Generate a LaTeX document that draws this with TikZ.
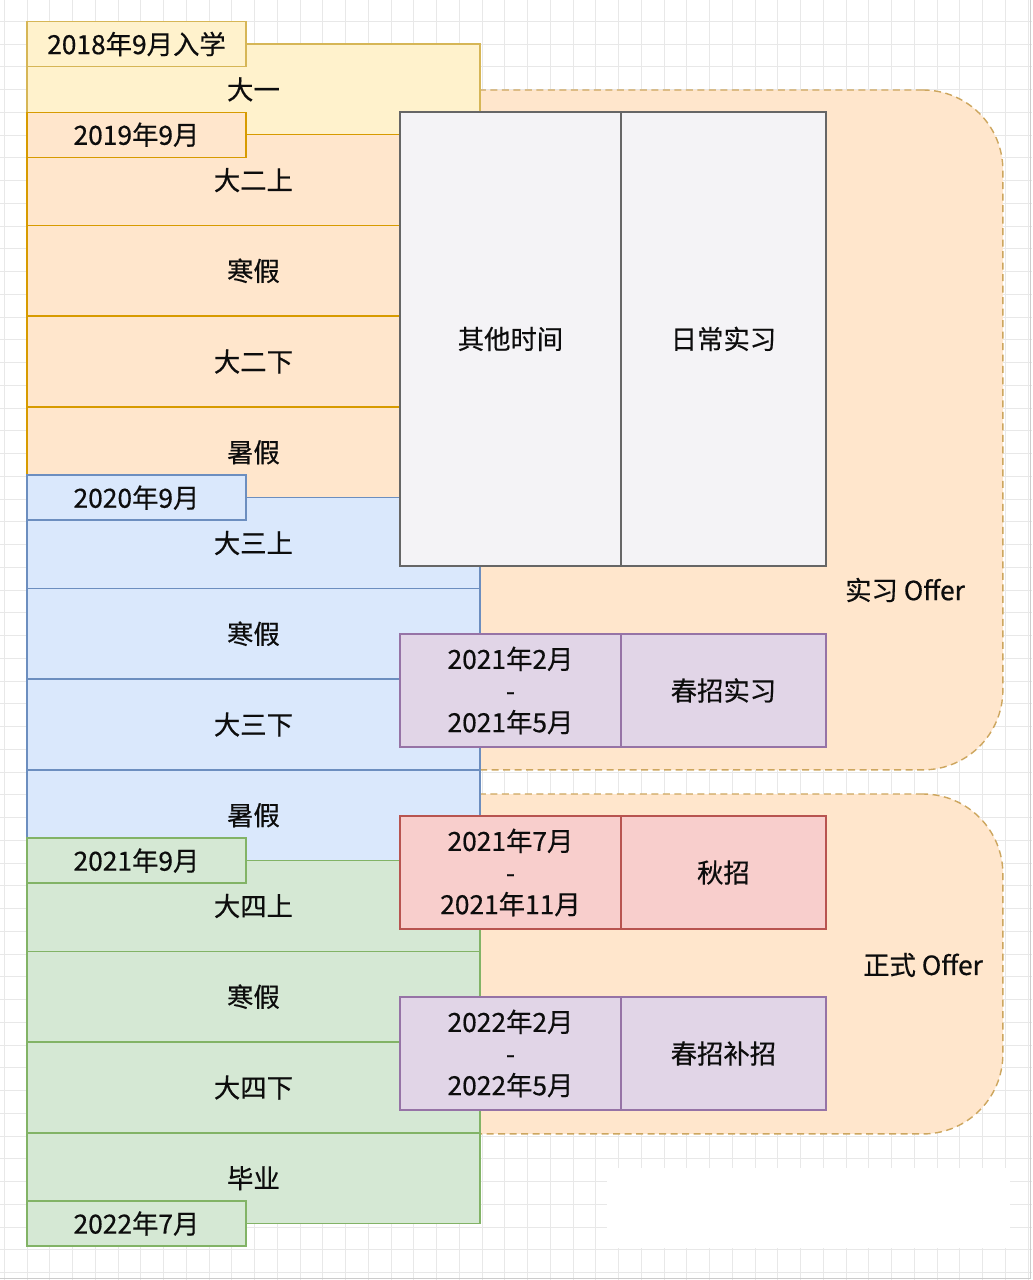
\documentclass[tikz,border=0pt]{standalone}
\usepackage{fontspec}
\setmainfont{Noto Sans CJK SC}[FakeBold=0.5]
\usetikzlibrary{positioning}

\definecolor{yelfill}{HTML}{FFF2CC}\definecolor{yeldraw}{HTML}{D6B656}
\definecolor{orgfill}{HTML}{FFE6CC}\definecolor{orgdraw}{HTML}{D79B00}
\definecolor{blufill}{HTML}{DAE8FC}\definecolor{bludraw}{HTML}{6C8EBF}
\definecolor{grnfill}{HTML}{D5E8D4}\definecolor{grndraw}{HTML}{82B366}
\definecolor{purfill}{HTML}{E1D5E7}\definecolor{purdraw}{HTML}{9673A6}
\definecolor{redfill}{HTML}{F8CECC}\definecolor{reddraw}{HTML}{B85450}
\definecolor{gryfill}{HTML}{F4F3F6}\definecolor{grydraw}{HTML}{666666}
\definecolor{offerdraw}{HTML}{CDA65E}
\definecolor{gridcol}{HTML}{E8E8E8}

\begin{document}
\begin{tikzpicture}[
    x=0.02cm, y=-0.02cm,
    every node/.style={font=\fontsize{15}{18}\selectfont, text=black!95,
                       inner sep=0pt, outer sep=0pt},
    semrow/.style={draw, line width=0.8pt, align=center,
                minimum width=9.06cm, minimum height=1.815cm},
    yelrow/.style={semrow, fill=yelfill, draw=yeldraw},
    orgrow/.style={semrow, fill=orgfill, draw=orgdraw},
    blurow/.style={semrow, fill=blufill, draw=bludraw},
    grnrow/.style={semrow, fill=grnfill, draw=grndraw},
    datebox/.style={draw, line width=0.8pt, anchor=west,
                    minimum width=4.38cm, minimum height=0.9cm},
    cell/.style={draw, line width=0.8pt, align=center, minimum height=2.26cm},
    region/.style={draw=offerdraw, fill=orgfill, line width=0.8pt,
                   dash pattern=on 0.14cm off 0.09cm, rounded corners=1.6cm,
                   anchor=north west, minimum width=14.06cm},
    gridline/.style={draw=gridcol, line width=0.4pt}
  ]
    \useasboundingbox (0,0) rectangle (1032,1280);
    % background grid
    \foreach \i in {0,...,45} \draw[gridline] ({4.25+22.75*\i},0) -- ({4.25+22.75*\i},1280);
    \foreach \j in {0,...,55} \draw[gridline] (0,{21.25+22.75*\j}) -- (1032,{21.25+22.75*\j});
    \fill[white] (607,1168) rectangle (1010,1248);
    \draw[gray!40] (1030,0) -- (1030,1278) -- (0,1278);

    % offer regions
    \node[region, minimum height=13.6cm] (internreg) at (300,90) {};
    \node[region, minimum height=6.8cm] (fullreg) at (300,794) {};
    \node (internlbl) at (905,590) {实习 Offer};
    \node (fulllbl) at (923,965) {正式 Offer};

    % semesters
    \node[yelrow, anchor=north west] (fresh) at (27,44) {大一};
    \node[orgrow, below=0pt of fresh] (sophA) {大二上};
    \node[orgrow, below=0pt of sophA] (sophW) {寒假};
    \node[orgrow, below=0pt of sophW] (sophB) {大二下};
    \node[orgrow, below=0pt of sophB] (sophS) {暑假};
    \node[blurow, below=0pt of sophS] (junA) {大三上};
    \node[blurow, below=0pt of junA] (junW) {寒假};
    \node[blurow, below=0pt of junW] (junB) {大三下};
    \node[blurow, below=0pt of junB] (junS) {暑假};
    \node[grnrow, below=0pt of junS] (senA) {大四上};
    \node[grnrow, below=0pt of senA] (senW) {寒假};
    \node[grnrow, below=0pt of senW] (senB) {大四下};
    \node[grnrow, below=0pt of senB] (grad) {毕业};

    % dates
    \node[datebox, fill=yelfill, draw=yeldraw] (d2018) at (fresh.north west) {2018年9月入学};
    \node[datebox, fill=orgfill, draw=orgdraw] (d2019) at (sophA.north west) {2019年9月};
    \node[datebox, fill=blufill, draw=bludraw] (d2020) at (junA.north west) {2020年9月};
    \node[datebox, fill=grnfill, draw=grndraw] (d2021) at (senA.north west) {2021年9月};
    \node[datebox, fill=grnfill, draw=grndraw] (d2022) at (grad.south west) {2022年7月};

    % activities
    \node[cell, fill=gryfill, draw=grydraw, anchor=north west,
          minimum width=4.42cm, minimum height=9.08cm] (other) at (400,112) {其他时间};
    \node[cell, fill=gryfill, draw=grydraw, right=0pt of other,
          minimum width=4.1cm, minimum height=9.08cm] (daily) {日常实习};
    \node[cell, fill=purfill, draw=purdraw, anchor=north west,
          minimum width=4.42cm] (springD) at (400,634) {2021年2月\\-\\2021年5月};
    \node[cell, fill=purfill, draw=purdraw, right=0pt of springD,
          minimum width=4.1cm] (springI) {春招实习};
    \node[cell, fill=redfill, draw=reddraw, anchor=north west,
          minimum width=4.42cm] (autumnD) at (400,816) {2021年7月\\-\\2021年11月};
    \node[cell, fill=redfill, draw=reddraw, right=0pt of autumnD,
          minimum width=4.1cm] (autumnI) {秋招};
    \node[cell, fill=purfill, draw=purdraw, anchor=north west,
          minimum width=4.42cm] (makeupD) at (400,997) {2022年2月\\-\\2022年5月};
    \node[cell, fill=purfill, draw=purdraw, right=0pt of makeupD,
          minimum width=4.1cm] (makeupI) {春招补招};
  \end{tikzpicture}
\end{document}
